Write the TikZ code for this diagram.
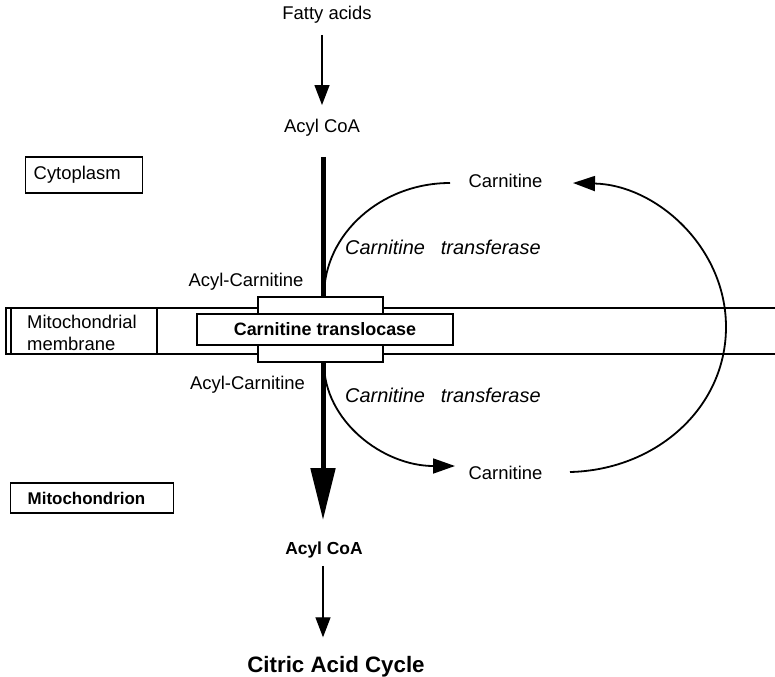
\documentclass[tikz,border=0pt]{standalone}
\usepackage{fontspec}
\setmainfont{Liberation Sans}
\usetikzlibrary{arrows.meta,calc}
\begin{document}
\begin{tikzpicture}[x=1bp,y=-1bp,
  lbl/.style={inner sep=0pt, text height=13.5bp, text depth=4bp, font=\fontsize{18.5}{22}\selectfont},
  blbl/.style={lbl, font=\fontsize{17.5}{22}\selectfont\bfseries},
  ital/.style={lbl, font=\fontsize{20}{22}\selectfont\itshape},
  boxed/.style={draw, line width=1.4bp, fill=white},
  thinarr/.style={line width=1.3bp, -{Triangle[length=20bp,width=15bp]}},
  thickarr/.style={line width=5bp, -{Triangle[length=52bp,width=24bp]}},
  curvearr/.style={line width=1.8bp, -{Triangle[length=22bp,width=15bp]}},
  curveline/.style={line width=1.8bp},
  memline/.style={line width=1.6bp}
]
\useasboundingbox (0,0) rectangle (775,677);
\fill[white] (0,0) rectangle (775,677);

% labels
\node[lbl] (fa) at (327,15) {Fatty acids};
\node[lbl] (acoa1) at (322,128) {Acyl CoA};
\node[blbl] (acoa2) at (324,550) {Acyl CoA};
\node[inner sep=0pt, text height=16bp, text depth=5bp, font=\fontsize{22.4}{26}\selectfont\bfseries] (cac) at (336,667) {Citric Acid Cycle};

\node[lbl] (carn1) at (505.5,183) {Carnitine};
\node[lbl] (carn2) at (505.5,475) {Carnitine};
\node[ital, anchor=west] (tr1) at (345,250) {Carnitine\hspace{16bp}transferase};
\node[ital, anchor=west] (tr2) at (345,398) {Carnitine\hspace{16bp}transferase};
\node[lbl] (ac1) at (246,282) {Acyl-Carnitine};
\node[lbl] (ac2) at (247.5,385) {Acyl-Carnitine};

\node[boxed, anchor=west, minimum height=36bp, text width=101bp, inner xsep=8bp, align=left, font=\fontsize{18.5}{22}\selectfont] (cyto) at (25,175) {Cytoplasm};
\node[boxed, anchor=west, minimum height=30bp, text width=129bp, inner xsep=17bp, align=left, font=\fontsize{17}{20}\selectfont\bfseries] (mito) at (10,498) {Mitochondrion};

% arrows
\draw[thinarr, shorten <=11bp, shorten >=14bp] (fa.south -| acoa1) -- (acoa1.north);
\draw[thickarr, shorten <=20bp, shorten >=21bp] (acoa1.south -| 323,0) -- (acoa2.north -| 323,0);
\draw[thinarr, shorten <=7bp, shorten >=19bp] (acoa2.south -| 323,0) -- (cac.north -| 323,0);

% membrane
\draw[memline] (6,308) rectangle (790,354);
\draw[memline] (11,308) -- (11,354);
\draw[memline] (157,308) -- (157,354);
\node[lbl, anchor=west, align=left, text height=, text depth=, font=\fontsize{18.5}{22}\selectfont] (memlbl) at (27,333) {Mitochondrial\\membrane};

% curves
\coordinate (t1) at (324,296);
\coordinate (t2) at (450,183);
\coordinate (b1) at (324,363);
\coordinate (b2) at (455,466);
\coordinate (r1) at (570,472);
\coordinate (r2) at (573,183);
\draw[curveline] (t1) .. controls (324,234) and (381,183) .. (t2);
\draw[curvearr] (b1) .. controls (324,421) and (383,466) .. (b2);
\draw[curvearr] (r1) .. controls (656,470) and (726,408) .. (726,327)
  .. controls (726,247) and (656,185) .. (r2);

% translocase
\node[boxed, minimum width=125bp, minimum height=65bp] (tlo) at (320.5,329.5) {};
\node[boxed, minimum width=256bp, minimum height=31bp, inner sep=0pt, font=\fontsize{18}{22}\selectfont\bfseries] (tl) at (325,329.5) {Carnitine translocase};
\end{tikzpicture}
\end{document}
